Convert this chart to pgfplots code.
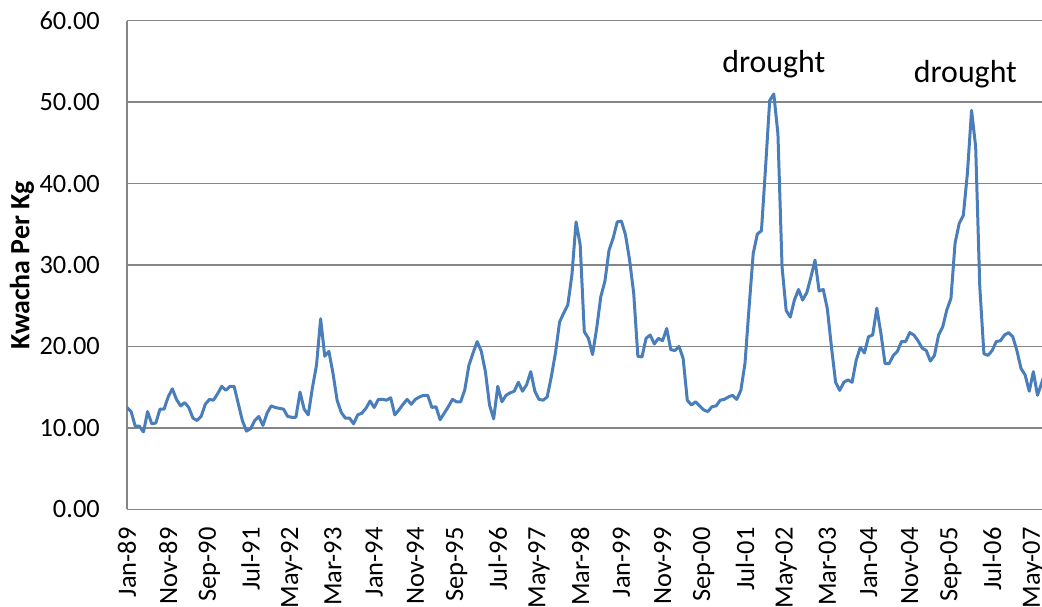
\documentclass[border=0pt]{standalone}
\usepackage{pgfplots}
\pgfplotsset{compat=1.18}
\usepackage{pgfplotstable}
\usepackage{fontspec}
\setmainfont{Carlito}

\definecolor{series}{HTML}{4A7EBB}
\definecolor{gridgray}{HTML}{868686}

% monthly maize price, Jan-89 onwards (index 0 = Jan-89)
\pgfplotstableread{
i price
0 12.5
1 12.0
2 10.2
3 10.2
4 9.5
5 12.0
6 10.5
7 10.6
8 12.3
9 12.3
10 13.8
11 14.8
12 13.5
13 12.7
14 13.1
15 12.5
16 11.2
17 10.9
18 11.4
19 12.9
20 13.5
21 13.4
22 14.2
23 15.1
24 14.6
25 15.1
26 15.1
27 13.0
28 10.9
29 9.6
30 9.9
31 10.9
32 11.4
33 10.3
34 11.8
35 12.7
36 12.5
37 12.4
38 12.3
39 11.4
40 11.3
41 11.3
42 14.4
43 12.3
44 11.6
45 14.9
46 17.7
47 23.4
48 18.8
49 19.4
50 16.7
51 13.4
52 11.9
53 11.2
54 11.2
55 10.5
56 11.6
57 11.8
58 12.4
59 13.3
60 12.5
61 13.5
62 13.5
63 13.4
64 13.7
65 11.6
66 12.2
67 12.9
68 13.5
69 12.9
70 13.5
71 13.8
72 14.0
73 14.0
74 12.5
75 12.6
76 11.0
77 11.8
78 12.6
79 13.5
80 13.2
81 13.2
82 14.7
83 17.7
84 19.2
85 20.6
86 19.4
87 16.9
88 12.8
89 11.1
90 15.1
91 13.2
92 14.0
93 14.3
94 14.5
95 15.6
96 14.5
97 15.3
98 16.9
99 14.5
100 13.5
101 13.4
102 13.8
103 16.3
104 19.2
105 23.0
106 24.1
107 25.1
108 28.8
109 35.3
110 32.5
111 21.8
112 21.0
113 19.0
114 22.2
115 26.1
116 28.0
117 31.8
118 33.3
119 35.3
120 35.4
121 33.7
122 30.6
123 26.5
124 18.8
125 18.7
126 21.0
127 21.4
128 20.3
129 21.0
130 20.7
131 22.2
132 19.6
133 19.5
134 20.0
135 18.5
136 13.4
137 12.8
138 13.2
139 12.7
140 12.2
141 12.0
142 12.6
143 12.7
144 13.4
145 13.5
146 13.8
147 14.0
148 13.5
149 14.6
150 17.9
151 24.8
152 31.4
153 33.8
154 34.2
155 42.0
156 50.2
157 51.0
158 46.1
159 29.8
160 24.4
161 23.6
162 25.7
163 27.0
164 25.7
165 26.6
166 28.5
167 30.6
168 26.8
169 27.0
170 24.6
171 19.9
172 15.6
173 14.6
174 15.6
175 15.9
176 15.6
177 18.3
178 19.9
179 19.2
180 21.2
181 21.4
182 24.7
183 21.6
184 17.9
185 17.9
186 18.9
187 19.4
188 20.6
189 20.6
190 21.7
191 21.4
192 20.7
193 19.8
194 19.5
195 18.2
196 18.9
197 21.4
198 22.4
199 24.5
200 25.9
201 32.7
202 35.1
203 36.1
204 41.3
205 49.0
206 44.5
207 27.3
208 19.1
209 18.9
210 19.5
211 20.6
212 20.7
213 21.4
214 21.7
215 21.2
216 19.5
217 17.3
218 16.5
219 14.5
220 16.9
221 14.0
222 15.5
223 17.0
}\pricedata

\begin{document}
\begin{tikzpicture}
\useasboundingbox (-127bp,-97.7bp) rectangle (915bp,509.3bp);
\begin{axis}[
  at={(0,0)}, anchor=south west,
  width=915bp, height=488.6bp, scale only axis,
  xmin=0, xmax=222.1, ymin=0, ymax=60,
  axis lines*=left,
  axis line style={gridgray, line width=1.3bp},
  ymajorgrids,
  grid style={gridgray, line width=1.3bp},
  ytick={0,10,...,60},
  xtick={0,10,...,220},
  xticklabels={Jan-89,Nov-89,Sep-90,Jul-91,May-92,Mar-93,Jan-94,Nov-94,Sep-95,Jul-96,May-97,Mar-98,Jan-99,Nov-99,Sep-00,Jul-01,May-02,Mar-03,Jan-04,Nov-04,Sep-05,Jul-06,May-07},
  major tick length=0pt,
  tick label style={font=\fontsize{26.5}{26.5}\selectfont},
  /pgf/number format/assume math mode=true,
  yticklabel style={/pgf/number format/fixed, /pgf/number format/fixed zerofill, /pgf/number format/precision=2, anchor=east, inner xsep=27bp},
  xticklabel style={rotate=90, anchor=east, inner xsep=18bp},
  ylabel={Kwacha Per Kg},
  every axis y label/.style={at={(axis description cs:-0.1148,0.5)}, rotate=90, anchor=center, font=\fontsize{28}{28}\selectfont\bfseries},
]
\addplot[series, line width=3bp, line join=round] table[x=i, y=price] {\pricedata};
\node[font=\fontsize{32}{32}\selectfont, anchor=base] at (axis cs:157,53.6) {drought};
\node[font=\fontsize{32}{32}\selectfont, anchor=base] at (axis cs:203.5,52.35) {drought};
\end{axis}
\end{tikzpicture}
\end{document}
